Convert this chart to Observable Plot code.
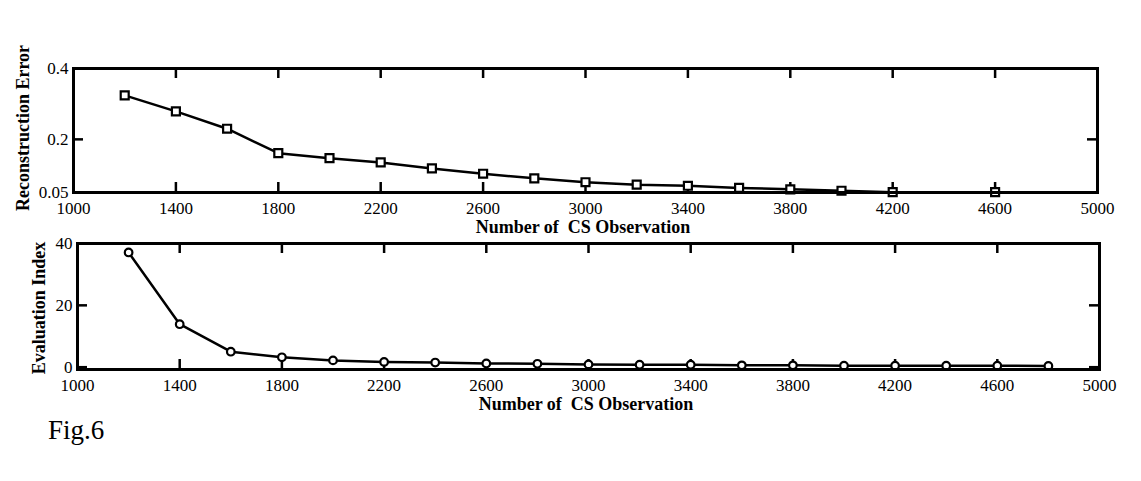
<!DOCTYPE html>
<html><head><meta charset="utf-8">
<script src="https://cdn.jsdelivr.net/npm/d3@7"></script>
<script src="https://cdn.jsdelivr.net/npm/@observablehq/plot@0.6"></script>
<style>
html,body{margin:0;padding:0;background:#fff;}
#wrap{position:relative;width:1141px;height:481px;overflow:hidden;background:#fff;font-family:"Liberation Serif","DejaVu Serif",serif;color:#000;}
#wrap svg{position:absolute;left:0;}
svg text{white-space:pre;}
#caption{position:absolute;left:48px;top:417px;font-size:27px;line-height:27px;font-family:"Liberation Serif",serif;}
</style></head><body><div id="wrap"></div>
<script>
// Top panel: reconstruction error
const errorObservations = [1200,1400,1600,1800,2000,2200,2400,2600,2800,3000,3200,3400,3600,3800,4000,4200,4600];
const reconstructionError = [0.324,0.279,0.230,0.161,0.147,0.135,0.118,0.103,0.090,0.079,0.072,0.069,0.063,0.059,0.055,0.051,0.051];
// Bottom panel: evaluation index
const indexObservations = [1200,1400,1600,1800,2000,2200,2400,2600,2800,3000,3200,3400,3600,3800,4000,4200,4400,4600,4800];
const evaluationIndex = [37.1,13.9,5.0,3.2,2.2,1.7,1.5,1.2,1.1,0.9,0.8,0.8,0.6,0.6,0.5,0.5,0.5,0.5,0.4];
// Ticks and labels
const xTicks = [1000,1400,1800,2200,2600,3000,3400,3800,4200,4600,5000];
const errorTicks = [0.05,0.2,0.4];
const indexTicks = [0,20,40];
const xLabel = "Number of  CS Observation";
const errorLabel = "Reconstruction Error";
const indexLabel = "Evaluation Index";
const captionText = "Fig.6";

const FONT = '"Liberation Serif","Times New Roman",serif';

function panel({xs, ys, yDomain, yTicks, symbol, r, top, height, mt, mb, ml, mr, ylabel, ylabelPos, xlabelPos}) {
  const data = xs.map((x, i) => ({x, y: ys[i]}));
  const innerH = height - mt - mb;
  const innerW = 1141 - ml - mr;
  const inner = xTicks.slice(1, -1);
  const svg = Plot.plot({
    width: 1141, height,
    marginTop: mt, marginBottom: mb, marginLeft: ml, marginRight: mr,
    style: {fontFamily: FONT, fontSize: "17px", color: "#000", background: "transparent", overflow: "visible"},
    x: {domain: [1000, 5000]},
    y: {domain: yDomain},
    marks: [
      Plot.axisX({ticks: xTicks, tickSize: 0, tickPadding: 9, tickFormat: d => String(d), label: null, fontSize: 17}),
      Plot.axisY({ticks: yTicks, tickSize: 0, tickPadding: 5, tickFormat: d => String(d), label: null, fontSize: 17}),
      Plot.ruleX(inner, {x: d => d, insetTop: innerH - 10, stroke: "#000", strokeWidth: 2.5}),
      Plot.ruleX(inner, {x: d => d, insetBottom: innerH - 10, stroke: "#000", strokeWidth: 2.5}),
      Plot.ruleY(yTicks, {y: d => d, insetRight: innerW - 10, stroke: "#000", strokeWidth: 2.5}),
      Plot.ruleY(yTicks, {y: d => d, insetLeft: innerW - 10, stroke: "#000", strokeWidth: 2.5}),
      Plot.line(data, {x: "x", y: "y", stroke: "#000", strokeWidth: 2.5}),
      Plot.dot(data, {x: "x", y: "y", symbol, r, stroke: "#000", fill: "#fff", strokeWidth: 2.2}),
      Plot.frame({stroke: "#000", strokeWidth: 3})
    ]
  });
  svg.style.top = top + "px";
  const s = d3.select(svg);
  s.append("text")
    .attr("transform", `translate(${ylabelPos[0]},${ylabelPos[1]}) rotate(-90)`)
    .attr("text-anchor", "middle").attr("dominant-baseline", "central")
    .style("font-family", FONT).style("font-weight", "bold").style("font-size", "18px")
    .text(ylabel);
  s.append("text")
    .attr("x", xlabelPos[0]).attr("y", xlabelPos[1])
    .attr("text-anchor", "middle").attr("dominant-baseline", "central")
    .style("font-family", FONT).style("font-weight", "bold").style("font-size", "18px")
    .text(xLabel);
  return svg;
}

const wrap = document.getElementById("wrap");
wrap.appendChild(panel({
  xs: errorObservations, ys: reconstructionError, yDomain: [0.05, 0.4], yTicks: errorTicks,
  symbol: "square", r: 4.5, top: 0, height: 240, mt: 68, mb: 48, ml: 73, mr: 44,
  ylabel: errorLabel, ylabelPos: [23, 128], xlabelPos: [583, 227]
}));
wrap.appendChild(panel({
  xs: indexObservations, ys: evaluationIndex, yDomain: [-0.75, 40], yTicks: indexTicks,
  symbol: "circle", r: 3.8, top: 200, height: 240, mt: 43, mb: 71, ml: 77, mr: 42,
  ylabel: indexLabel, ylabelPos: [38.5, 108], xlabelPos: [586, 204]
}));
const cap = document.createElement("div");
cap.id = "caption";
cap.textContent = captionText;
wrap.appendChild(cap);
</script>
</body></html>
